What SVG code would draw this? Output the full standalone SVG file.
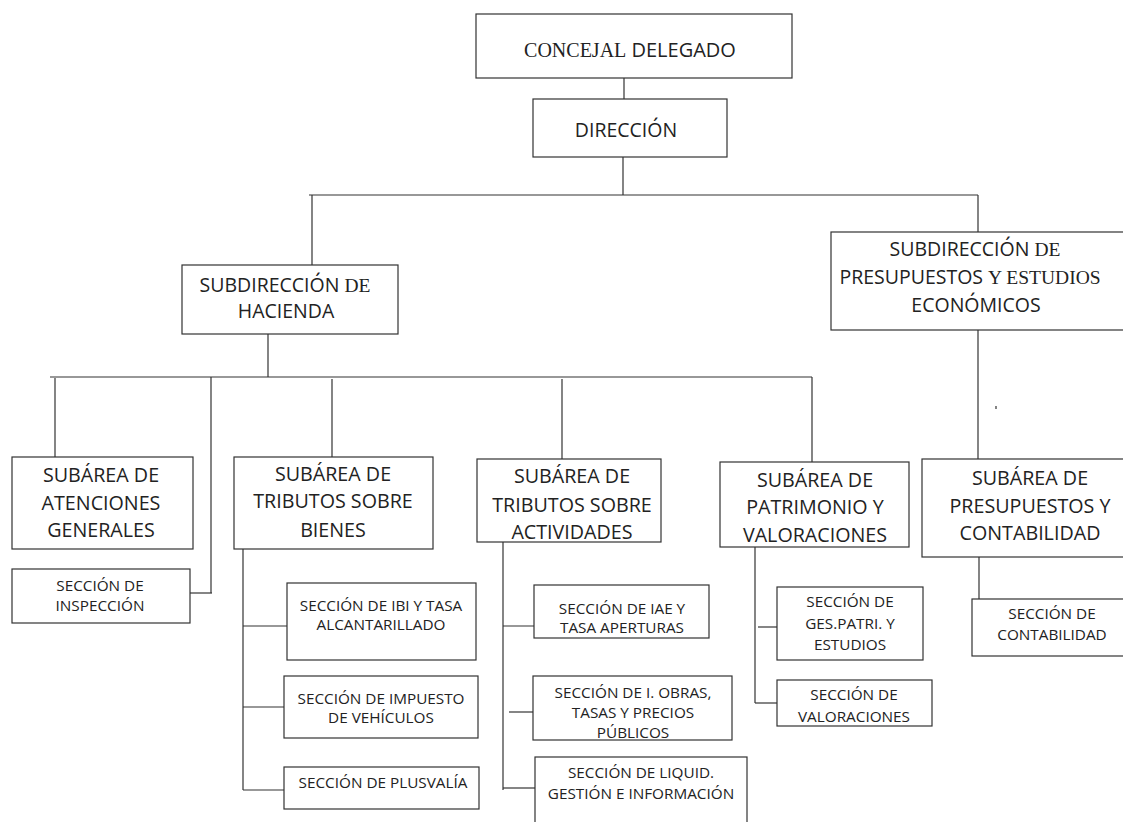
<svg xmlns="http://www.w3.org/2000/svg" width="1123" height="822" viewBox="0 0 1123 822">
<style>
rect{fill:#fff;stroke:#333;stroke-width:1.2}
.c line{stroke:#333;stroke-width:1.2}
text{font-family:"Open Sans","Noto Sans",sans-serif;fill:#222;text-anchor:middle}
.s{font-family:"Liberation Serif",serif}
.t0{font-size:20px}
.t1{font-size:19.5px}
.t2{font-size:19.7px}
.t3{font-size:15.3px}
</style>
<rect width="1123" height="822" style="fill:#fff;stroke:none"/>
<g class="c" id="connectors">
<line x1="624" y1="78" x2="624" y2="99"/>
<line x1="623" y1="157" x2="623" y2="195"/>
<line x1="309" y1="195" x2="978" y2="195"/>
<line x1="312" y1="195" x2="312" y2="265"/>
<line x1="978" y1="195" x2="978" y2="232"/>
<line x1="268" y1="334" x2="268" y2="377"/>
<line x1="50" y1="377" x2="812" y2="377"/>
<line x1="55" y1="378" x2="55" y2="457"/>
<line x1="211" y1="377" x2="211" y2="593"/>
<line x1="190" y1="593" x2="212" y2="593"/>
<line x1="332" y1="379" x2="332" y2="457"/>
<line x1="562" y1="379" x2="562" y2="459"/>
<line x1="812" y1="377" x2="812" y2="462"/>
<line x1="978" y1="330" x2="978" y2="459"/>
<line x1="996" y1="406" x2="996" y2="409"/>
<line x1="979" y1="557" x2="979" y2="599"/>
<line x1="243" y1="549" x2="243" y2="790"/>
<line x1="243" y1="626" x2="287" y2="626"/>
<line x1="243" y1="707" x2="285" y2="707"/>
<line x1="243" y1="790" x2="285" y2="790"/>
<line x1="503" y1="542" x2="503" y2="790"/>
<line x1="503" y1="626" x2="540" y2="626"/>
<line x1="509" y1="712" x2="533" y2="712"/>
<line x1="503" y1="788" x2="535" y2="788"/>
<line x1="755" y1="547" x2="755" y2="703"/>
<line x1="758" y1="627" x2="779" y2="627"/>
<line x1="755" y1="703" x2="779" y2="703"/>
</g>
<g id="concejal">
<rect x="476" y="14" width="316" height="64"/>
<text class="t0" x="630" y="57"><tspan class="s">CONCEJAL</tspan> DELEGADO</text>
</g>
<g id="direccion">
<rect x="533" y="99" width="194" height="58"/>
<text class="t1" x="626" y="137">DIRECCIÓN</text>
</g>
<g id="subdir-hacienda">
<rect x="182" y="265" width="216" height="69"/>
<text class="t1" x="285" y="292">SUBDIRECCIÓN <tspan class="s">DE</tspan></text>
<text class="t1" x="286" y="318">HACIENDA</text>
</g>
<g id="subdir-presupuestos">
<rect x="831" y="232" width="300" height="98"/>
<text class="t1" x="975" y="256">SUBDIRECCIÓN <tspan class="s">DE</tspan></text>
<text class="t1" x="970" y="284">PRESUPUESTOS <tspan class="s">Y ESTUDIOS</tspan></text>
<text class="t1" x="976" y="312">ECONÓMICOS</text>
</g>
<g id="atenciones">
<rect x="12" y="457" width="181" height="92"/>
<text class="t2" x="101" y="482">SUBÁREA DE</text>
<text class="t2" x="101" y="510">ATENCIONES</text>
<text class="t2" x="101" y="537">GENERALES</text>
</g>
<g id="inspeccion">
<rect x="12" y="569" width="178" height="54"/>
<text class="t3" x="100" y="591">SECCIÓN DE</text>
<text class="t3" x="100" y="611">INSPECCIÓN</text>
</g>
<g id="bienes">
<rect x="234" y="457" width="199" height="92"/>
<text class="t2" x="333" y="481">SUBÁREA DE</text>
<text class="t2" x="333" y="508">TRIBUTOS SOBRE</text>
<text class="t2" x="333" y="537">BIENES</text>
</g>
<g id="ibi">
<rect x="287" y="583" width="189" height="77"/>
<text class="t3" x="381" y="611">SECCIÓN DE IBI Y TASA</text>
<text class="t3" x="381" y="630">ALCANTARILLADO</text>
</g>
<g id="vehiculos">
<rect x="284" y="676" width="194" height="62"/>
<text class="t3" x="381" y="704">SECCIÓN DE IMPUESTO</text>
<text class="t3" x="381" y="723">DE VEHÍCULOS</text>
</g>
<g id="plusvalia">
<rect x="284" y="767" width="195" height="42"/>
<text class="t3" x="383" y="788">SECCIÓN DE PLUSVALÍA</text>
</g>
<g id="actividades">
<rect x="477" y="459" width="184" height="83"/>
<text class="t2" x="572" y="483">SUBÁREA DE</text>
<text class="t2" x="572" y="512">TRIBUTOS SOBRE</text>
<text class="t2" x="572" y="539">ACTIVIDADES</text>
</g>
<g id="iae">
<rect x="534" y="585" width="175" height="53"/>
<text class="t3" x="622" y="614">SECCIÓN DE IAE Y</text>
<text class="t3" x="622" y="633">TASA APERTURAS</text>
</g>
<g id="obras">
<rect x="533" y="676" width="199" height="64"/>
<text class="t3" x="633" y="698">SECCIÓN DE I. OBRAS,</text>
<text class="t3" x="633" y="718">TASAS Y PRECIOS</text>
<text class="t3" x="633" y="738">PÚBLICOS</text>
</g>
<g id="liquid">
<rect x="535" y="757" width="212" height="80"/>
<text class="t3" x="641" y="778">SECCIÓN DE LIQUID.</text>
<text class="t3" x="641" y="799">GESTIÓN E INFORMACIÓN</text>
</g>
<g id="patrimonio">
<rect x="720" y="462" width="189" height="85"/>
<text class="t2" x="815" y="487">SUBÁREA DE</text>
<text class="t2" x="815" y="514">PATRIMONIO Y</text>
<text class="t2" x="815" y="542">VALORACIONES</text>
</g>
<g id="gespatri">
<rect x="777" y="587" width="146" height="73"/>
<text class="t3" x="850" y="607">SECCIÓN DE</text>
<text class="t3" x="850" y="629">GES.PATRI. Y</text>
<text class="t3" x="850" y="650">ESTUDIOS</text>
</g>
<g id="valoraciones">
<rect x="777" y="680" width="155" height="46"/>
<text class="t3" x="854" y="700">SECCIÓN DE</text>
<text class="t3" x="854" y="722">VALORACIONES</text>
</g>
<g id="presupuestos-contabilidad">
<rect x="922" y="459" width="210" height="98"/>
<text class="t2" x="1030" y="485">SUBÁREA DE</text>
<text class="t2" x="1030" y="513">PRESUPUESTOS Y</text>
<text class="t2" x="1030" y="540">CONTABILIDAD</text>
</g>
<g id="contabilidad">
<rect x="972" y="599" width="160" height="57"/>
<text class="t3" x="1052" y="619">SECCIÓN DE</text>
<text class="t3" x="1052" y="640">CONTABILIDAD</text>
</g>
</svg>
